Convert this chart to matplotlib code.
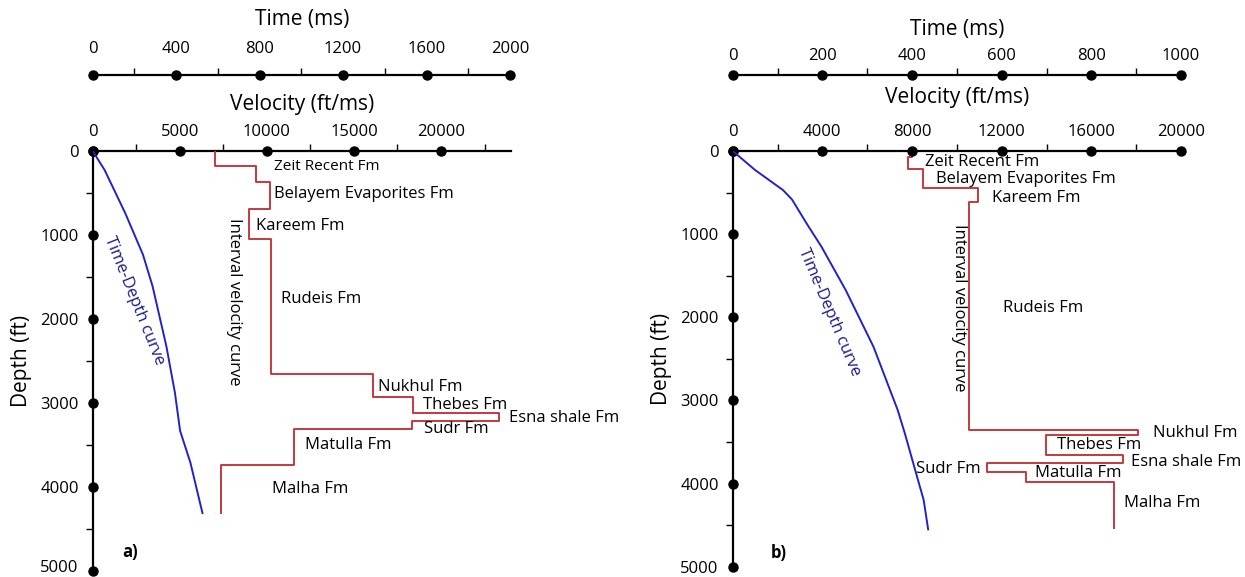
import numpy as np
import matplotlib
matplotlib.use("Agg")
import matplotlib.pyplot as plt
from matplotlib.ticker import FixedLocator, NullFormatter
from matplotlib.transforms import ScaledTranslation

plt.rcParams['font.family'] = ['Open Sans', 'DejaVu Sans']

# ---------------- data: well (a) ----------------
a_formations = ["Zeit Recent Fm", "Belayem Evaporites Fm", "Kareem Fm", "Rudeis Fm",
                "Nukhul Fm", "Thebes Fm", "Esna shale Fm", "Sudr Fm", "Matulla Fm", "Malha Fm"]
# interval velocity steps (top depth ft, velocity ft/ms), last entry closes the log
a_step_tops = [0, 178, 365, 693, 1050, 2655, 2932, 3126, 3217, 3316, 3744]
a_step_base = 4315
a_step_vel = [7030, 9390, 10180, 9000, 10240, 16100, 18370, 23330, 18310, 11560, 7380]
# time-depth pairs
a_td_time = [0, 57, 156, 241, 287, 353, 394, 419, 468, 526]
a_td_depth = [0, 226, 741, 1236, 1612, 2326, 2880, 3336, 3712, 4315]
a_vel_ticks = [0, 5000, 10000, 15000, 20000]
a_time_ticks = [0, 400, 800, 1200, 1600, 2000]

# ---------------- data: well (b) ----------------
b_formations = ["Zeit Recent Fm", "Belayem Evaporites Fm", "Kareem Fm", "Rudeis Fm",
                "Nukhul Fm", "Thebes Fm", "Esna shale Fm", "Sudr Fm", "Matulla Fm", "Malha Fm"]
b_step_tops = [0, 68, 220, 441, 610, 3356, 3416, 3657, 3749, 3857, 3978]
b_step_base = 4539
b_step_vel = [8000, 7800, 8500, 10930, 10540, 18090, 13990, 17410, 11350, 13100, 17020]
b_td_time = [0, 50, 112, 132, 167, 198, 252, 314, 368, 384, 407, 426, 436]
b_td_depth = [0, 229, 469, 581, 890, 1151, 1672, 2354, 3115, 3396, 3837, 4198, 4551]
b_vel_ticks = [0, 4000, 8000, 12000, 16000, 20000]
b_time_ticks = [0, 200, 400, 600, 800, 1000]

depth_ticks = [0, 1000, 2000, 3000, 4000, 5000]

RED = '#c4393c'
BLUE = '#2222c8'
NAVY = '#1c1c8a'
W, H = 1245, 577


def fx(px):
    return px / W


def fy(px):
    return 1 - px / H


def step_xy(tops, base, vel):
    edges = list(tops) + [base]
    xs, ys = [], []
    for i, v in enumerate(vel):
        xs += [v, v]
        ys += [edges[i], edges[i + 1]]
    return xs, ys


def set_ticks(axis, major, minor):
    axis.set_major_locator(FixedLocator(major))
    axis.set_minor_locator(FixedLocator(minor))
    axis.set_minor_formatter(NullFormatter())


def time_axis(fig, left_px, right_px, y_px, tmax, ticks, minor, pad, labelpad):
    tax = fig.add_axes([fx(left_px), fy(y_px), fx(right_px - left_px), 0.0005])
    tax.set_xlim(0, tmax)
    tax.set_ylim(0, 1)
    for s in ['left', 'right', 'bottom']:
        tax.spines[s].set_visible(False)
    tax.spines['top'].set_linewidth(1.6)
    tax.xaxis.tick_top()
    tax.set_yticks([])
    set_ticks(tax.xaxis, ticks, minor)
    tax.set_xticklabels([str(t) for t in ticks])
    tax.tick_params(axis='x', which='major', length=0, pad=pad, labelsize=12)
    tax.tick_params(axis='x', which='minor', length=5, width=1, direction='out')
    tax.plot(ticks, [1] * len(ticks), 'o', color='black', ms=6.5, clip_on=False, zorder=5)
    tax.xaxis.set_label_position('top')
    tax.set_xlabel('Time (ms)', fontsize=15, labelpad=labelpad)
    tax.patch.set_visible(False)
    return tax


def panel(fig, left_px, right_px, top_px, bottom_px, vmax, vel_ticks, vel_minor,
          tmax, time_ticks, time_minor, tops, base, vel, td_t, td_d,
          names, name_pos, name_sizes, letter, letter_pos, td_label, iv_label,
          time_pad, time_labelpad, vel_pad, vel_labelpad, last_label_lift=0):
    ax = fig.add_axes([fx(left_px), fy(bottom_px), fx(right_px - left_px),
                       (bottom_px - top_px) / H])
    ax.set_xlim(0, vmax)
    ax.set_ylim(5000, 0)

    # time-depth curve drawn on the time scale (hidden twin axis)
    axt = ax.twiny()
    axt.set_xlim(0, tmax)
    axt.axis('off')
    axt.plot(td_t, td_d, color=BLUE, lw=1.4, zorder=3)

    ax.patch.set_visible(False)
    for s in ['right', 'bottom']:
        ax.spines[s].set_visible(False)
    for s in ['left', 'top']:
        ax.spines[s].set_linewidth(1.6)
    ax.xaxis.tick_top()
    ax.yaxis.tick_left()
    set_ticks(ax.xaxis, vel_ticks, vel_minor)
    set_ticks(ax.yaxis, depth_ticks, [500, 1500, 2500, 3500, 4500])
    ax.set_xticklabels([str(v) for v in vel_ticks])
    ax.set_yticklabels([str(d) for d in depth_ticks])
    ax.tick_params(axis='x', which='major', length=0, pad=vel_pad, labelsize=12)
    ax.tick_params(axis='y', which='major', length=0, pad=10, labelsize=12)
    ax.tick_params(which='minor', length=5, width=1, direction='out')
    if last_label_lift:
        lbl = ax.get_yticklabels()[-1]
        lbl.set_transform(lbl.get_transform() +
                          ScaledTranslation(0, last_label_lift / 100, fig.dpi_scale_trans))
    ax.plot(vel_ticks, [0] * len(vel_ticks), 'o', color='black', ms=6.5,
            clip_on=False, zorder=5)
    ax.plot([0] * len(depth_ticks), depth_ticks, 'o', color='black', ms=6.5,
            clip_on=False, zorder=5)
    ax.xaxis.set_label_position('top')
    ax.set_xlabel('Velocity (ft/ms)', fontsize=15, labelpad=vel_labelpad)
    ax.set_ylabel('Depth (ft)', fontsize=15, labelpad=6)

    # interval velocity log
    xs, ys = step_xy(tops, base, vel)
    ax.plot(xs, ys, color=RED, lw=1.4, zorder=3)

    for name, (x, y), fs in zip(names, name_pos, name_sizes):
        ax.text(x, y, name, fontsize=fs, ha='left', va='center', zorder=6)
    ax.text(letter_pos[0], letter_pos[1], letter, fontsize=12, fontweight='bold',
            ha='left', va='center')
    ax.text(td_label[0], td_label[1], 'Time-Depth curve', fontsize=12, color=NAVY,
            rotation=td_label[2], rotation_mode='anchor', ha='center', va='center')
    ax.text(iv_label[0], iv_label[1], 'Interval velocity curve', fontsize=12,
            rotation=-90, rotation_mode='anchor', ha='center', va='center')

    time_axis(fig, left_px, right_px, 75, tmax, time_ticks, time_minor,
              time_pad, time_labelpad)
    return ax


fig = plt.figure(figsize=(12.45, 5.77), dpi=100)

panel(fig, 92.7, 510.7, 151, 570.5, 24000, a_vel_ticks,
      [2500, 7500, 12500, 17500, 22500],
      2000 * 24000 / 23960, a_time_ticks, [200, 600, 1000, 1400, 1800],
      a_step_tops, a_step_base, a_step_vel, a_td_time, a_td_depth,
      a_formations,
      [(10430, 186), (10430, 511), (9350, 891), (10830, 1759), (16400, 2809),
       (18940, 3027), (23920, 3181), (19000, 3308), (12200, 3506), (10280, 4029)],
      [11, 12, 12, 12, 12, 12, 12, 12, 12, 12],
      'a)', (1710, 4774), (2360, 1781, -68), (8110, 1791),
      time_pad=13, time_labelpad=11, vel_pad=8, vel_labelpad=10, last_label_lift=4)

panel(fig, 732.7, 1181, 151, 566.7, 20000, b_vel_ticks,
      [2000, 6000, 10000, 14000, 18000],
      1000, b_time_ticks, [100, 300, 500, 700, 900],
      b_step_tops, b_step_base, b_step_vel, b_td_time, b_td_depth,
      b_formations,
      [(8600, 128), (9070, 337), (11550, 569), (12060, 1893), (18760, 3396),
       (14450, 3537), (17750, 3737), (8170, 3829), (13490, 3877), (17470, 4238)],
      [12] * 10,
      'b)', (1705, 4832), (4300, 1933, -67), (10080, 1881),
      time_pad=8, time_labelpad=9, vel_pad=8, vel_labelpad=15)

fig.savefig('out.png', dpi=100)
